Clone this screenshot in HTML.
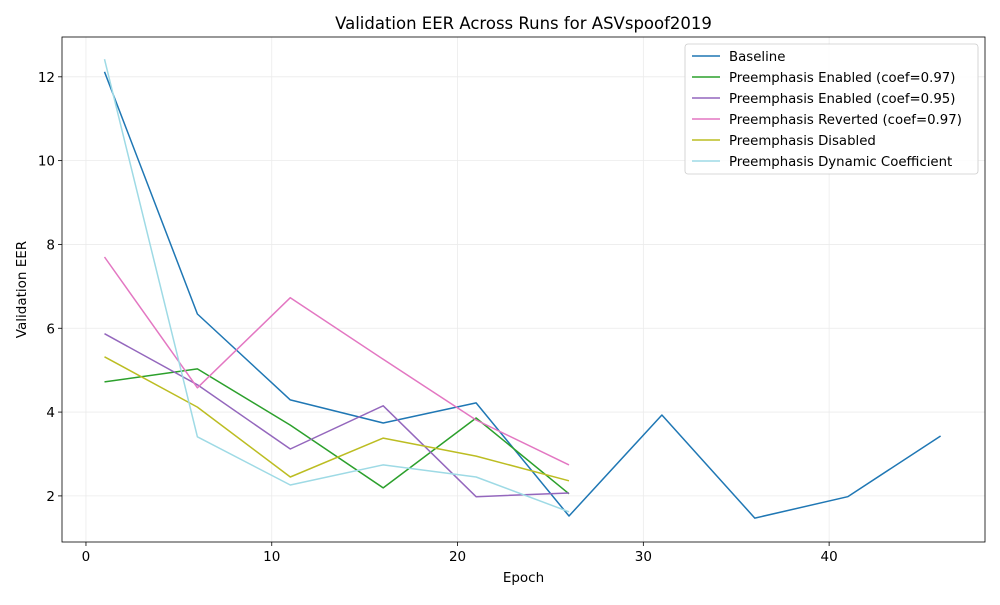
<!DOCTYPE html>
<html><head><meta charset="utf-8"><style>
html,body{margin:0;padding:0;background:#fff;}
svg text{font-family:"DejaVu Sans","Liberation Sans",sans-serif;}
</style></head><body>
<svg id="chart" width="1000" height="600" xmlns="http://www.w3.org/2000/svg"></svg>
<script>
const seriesNames = ["Baseline","Preemphasis Enabled (coef=0.97)","Preemphasis Enabled (coef=0.95)","Preemphasis Reverted (coef=0.97)","Preemphasis Disabled","Preemphasis Dynamic Coefficient"];
const seriesColors = ["#1f77b4","#2ca02c","#9467bd","#e377c2","#bcbd22","#9edae5"];
const baselineEpochs = [1,6,11,16,21,26,31,36,41,46];
const baselineEER = [12.12,6.34,4.29,3.74,4.22,1.52,3.93,1.47,1.98,3.43];
const shortEpochs = [1,6,11,16,21,26];
const enabled097EER = [4.72,5.03,3.69,2.19,3.86,2.05];
const enabled095EER = [5.87,4.65,3.12,4.15,1.98,2.07];
const revertedEER = [7.70,4.58,6.73,5.26,3.81,2.74];
const disabledEER = [5.32,4.12,2.45,3.38,2.95,2.36];
const dynamicEER = [12.42,3.41,2.26,2.74,2.45,1.62];
const xTicks = [0,10,20,30,40];
const yTicks = [2,4,6,8,10,12];

const L=62,R=985,T=37,B=542;
const xMin=-1.29,xMax=48.39,yMin=0.90,yMax=12.95;
const xs=v=>L+(v-xMin)/(xMax-xMin)*(R-L);
const ys=v=>B-(v-yMin)/(yMax-yMin)*(B-T);
const svg=document.getElementById('chart');
const NS="http://www.w3.org/2000/svg";
function mk(tag,attrs,parent){const e=document.createElementNS(NS,tag);for(const k in attrs)e.setAttribute(k,attrs[k]);(parent||svg).appendChild(e);return e;}

xTicks.forEach(t=>{const g=mk('line',{x1:xs(t),x2:xs(t),y1:T,y2:B,stroke:'#ebebeb','stroke-width':0.8});

});
yTicks.forEach(t=>{const g=mk('line',{x1:L,x2:R,y1:ys(t),y2:ys(t),stroke:'#ebebeb','stroke-width':0.8});

});

const allX=[baselineEpochs,shortEpochs,shortEpochs,shortEpochs,shortEpochs,shortEpochs];
const allY=[baselineEER,enabled097EER,enabled095EER,revertedEER,disabledEER,dynamicEER];
const lineNames=['baseline-line','enabled-097-line','enabled-095-line','reverted-line','disabled-line','dynamic-line'];
allY.forEach((ys_,i)=>{
  const pts=ys_.map((v,j)=>xs(allX[i][j]).toFixed(1)+','+ys(v).toFixed(1)).join(' ');
  const p=mk('polyline',{points:pts,fill:'none',stroke:seriesColors[i],'stroke-width':1.5,'stroke-linejoin':'round'});
  
  
});

const fr=mk('rect',{x:L,y:T,width:R-L,height:B-T,fill:'none',stroke:'#000','stroke-width':0.8});



xTicks.forEach(t=>{mk('line',{x1:xs(t),x2:xs(t),y1:B,y2:B+4,stroke:'#000','stroke-width':0.8});
const tx=mk('text',{x:xs(t),y:B+19,'text-anchor':'middle','font-size':13.5,fill:'#000'});tx.textContent=t;

});
yTicks.forEach(t=>{mk('line',{x1:L-4,x2:L,y1:ys(t),y2:ys(t),stroke:'#000','stroke-width':0.8});
const tx=mk('text',{x:L-7,y:ys(t)+5,'text-anchor':'end','font-size':13.5,fill:'#000'});tx.textContent=t;

});

const ti=mk('text',{x:(L+R)/2,y:29,'text-anchor':'middle','font-size':16.5,fill:'#000'});ti.textContent='Validation EER Across Runs for ASVspoof2019';


const xl=mk('text',{x:(L+R)/2,y:582,'text-anchor':'middle','font-size':13.5,fill:'#000'});xl.textContent='Epoch';


const yl=mk('text',{x:0,y:0,'text-anchor':'middle','font-size':13.5,fill:'#000',transform:`translate(26,${(T+B)/2}) rotate(-90)`});yl.textContent='Validation EER';



const lg=mk('g',{});


mk('rect',{x:685,y:44,width:293,height:130,rx:3,fill:'#fff','fill-opacity':0.85,stroke:'#ccc','stroke-width':0.8},lg);
seriesNames.forEach((n,i)=>{
  const y=56+i*21;
  const en=mk('g',{},lg);
  
  
  mk('line',{x1:692,x2:720,y1:y,y2:y,stroke:seriesColors[i],'stroke-width':1.5},en);
  const t=mk('text',{x:729,y:y+5,'font-size':13.3,fill:'#000'},en);t.textContent=n;
});
</script>
</body></html>
